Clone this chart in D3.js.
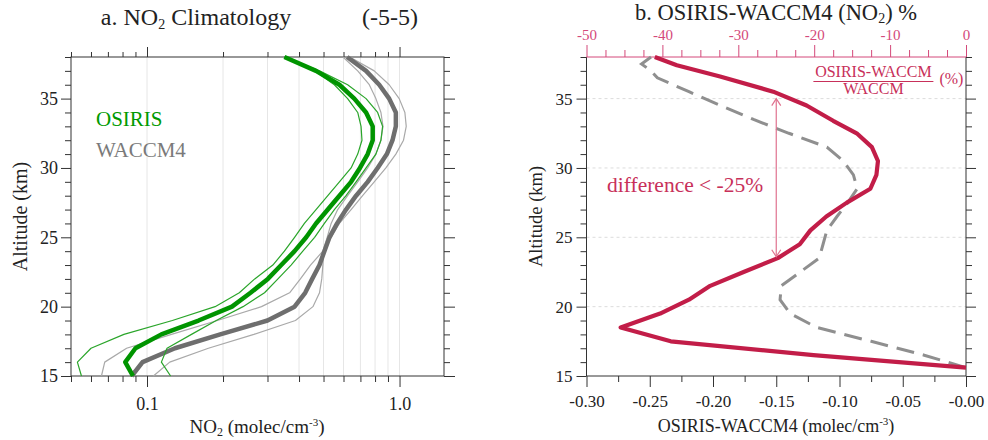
<!DOCTYPE html>
<meta charset="utf-8">
<script src="https://d3js.org/d3.v7.min.js"></script>
<style>
body { margin: 0; background: #fff; }
text { font-family: "Liberation Serif", "DejaVu Serif", "Times New Roman", serif; }
</style>
<div id="main"></div>
<script>
// ---- panel a: NO2 profiles (1e9 molec/cm3), altitude in km
const altitude   = [38, 37, 36, 35, 34, 33, 32, 31, 30, 29, 28, 27, 26, 25, 24, 23, 22, 21, 20, 19, 18, 17, 16, 15];
const osirisMean = [0.350, 0.467, 0.578, 0.662, 0.737, 0.783, 0.783, 0.748, 0.697, 0.643, 0.578, 0.520, 0.467, 0.427, 0.384, 0.340, 0.301, 0.257, 0.217, 0.160, 0.114, 0.090, 0.082, 0.088];
const osirisLow  = [0.350, 0.461, 0.552, 0.623, 0.683, 0.704, 0.710, 0.683, 0.643, 0.578, 0.520, 0.467, 0.420, 0.384, 0.350, 0.315, 0.267, 0.232, 0.186, 0.126, 0.081, 0.060, 0.053, 0.055];
const osirisHigh = [0.350, 0.482, 0.623, 0.737, 0.819, 0.857, 0.844, 0.806, 0.737, 0.673, 0.614, 0.552, 0.504, 0.461, 0.414, 0.372, 0.330, 0.292, 0.240, 0.188, 0.150, 0.120, 0.114, 0.124];
const waccmMean  = [0.620, 0.737, 0.831, 0.910, 0.967, 0.967, 0.938, 0.891, 0.819, 0.748, 0.673, 0.614, 0.566, 0.528, 0.504, 0.482, 0.451, 0.423, 0.384, 0.300, 0.195, 0.129, 0.096, 0.087];
const waccmLow   = [0.597, 0.683, 0.759, 0.806, 0.844, 0.860, 0.844, 0.806, 0.748, 0.683, 0.623, 0.569, 0.536, 0.517, 0.497, 0.444, 0.405, 0.367, 0.284, 0.190, 0.125, 0.083, 0.068, 0.066];
const waccmHigh  = [0.635, 0.794, 0.910, 0.997, 1.050, 1.063, 1.037, 0.967, 0.883, 0.794, 0.714, 0.643, 0.578, 0.536, 0.501, 0.497, 0.492, 0.482, 0.454, 0.387, 0.265, 0.175, 0.123, 0.106];

// ---- panel b: differences
const pctAlt  = [38, 37.4, 36.6, 35.5, 34.5, 33.4, 32.5, 31.5, 30.5, 29.5, 28.5, 27.5, 26.5, 25.5, 24.5, 23.5, 22.5, 21.5, 20.5, 19.5, 18.5, 17.5, 16.5, 15.6];
const pctDiff = [-41.0, -38.1, -32.4, -25.4, -21.0, -17.5, -14.4, -12.4, -11.6, -11.8, -12.6, -15.7, -18.4, -20.5, -21.9, -24.8, -29.3, -33.7, -36.5, -40.3, -45.5, -38.9, -20.1, 0.0];
const absAlt  = [38, 37.5, 37, 36.5, 35.5, 34.5, 33.5, 32.5, 31.5, 30.5, 29.5, 28.5, 27.5, 26.5, 25.5, 24.5, 23.5, 22.5, 21.5, 20.5, 19.5, 18.5, 17.5, 16.5, 15.6];
const absDiff = [-0.249, -0.2565, -0.249, -0.244, -0.219, -0.194, -0.168, -0.140, -0.110, -0.097, -0.089, -0.086, -0.0935, -0.102, -0.110, -0.113, -0.116, -0.131, -0.146, -0.147, -0.139, -0.118, -0.075, -0.033, 0.0];

// ---- ticks
const logMajor  = [0.1, 1.0];
const logLabels = ["0.1", "1.0"];
const logMinor  = [0.05, 0.06, 0.07, 0.08, 0.09, 0.2, 0.3, 0.4, 0.5, 0.6, 0.7, 0.8, 0.9];
const logGrid   = [0.1, 0.2, 0.3, 0.4, 0.5, 0.6, 0.7, 0.8, 0.9, 1.0];
const altMajor  = [15, 20, 25, 30, 35];
const altMinor  = [16, 17, 18, 19, 21, 22, 23, 24, 26, 27, 28, 29, 31, 32, 33, 34, 36, 37, 38];
const absMajor  = [-0.30, -0.25, -0.20, -0.15, -0.10, -0.05, 0];
const absLabels = ["-0.30", "-0.25", "-0.20", "-0.15", "-0.10", "-0.05", "-0.00"];
const absMinor  = [-0.275, -0.225, -0.175, -0.125, -0.075, -0.025];
const pctMajor  = [-50, -40, -30, -20, -10, 0];
const pctMinor  = [-47.5, -45, -42.5, -37.5, -35, -32.5, -27.5, -25, -22.5, -17.5, -15, -12.5, -7.5, -5, -2.5];

const width = 988, height = 440;
const serif = "Liberation Serif, DejaVu Serif, serif";
const green = "#009400", greenThin = "#2aa52a", grey = "#6e6e6e", greyThin = "#a9a9a9";
const crimson = "#c21d48", pink = "#d4497a", axisCol = "#333";

let svg = d3.select("#main").append("svg")
    .attr("width", width)
    .attr("height", height)
    .attr("font-family", serif);

let y = d3.scaleLinear().domain([15, 38]).range([376, 57]);

// ================= panel a =================
let xL = d3.scaleLog().domain([0.05, 1.5]).range([71, 444]);
let a = svg.append("g");

a.append("g").selectAll("line")
    .data(logGrid)
    .enter().append("line")
    .attr("x1", d => xL(d)).attr("x2", d => xL(d))
    .attr("y1", y(15)).attr("y2", y(38))
    .attr("stroke", "#e6e6e6");

function styleAxis(g) {
  g.attr("font-family", serif);
  g.select(".domain").remove();
  g.selectAll(".tick line").attr("stroke", axisCol);
  g.selectAll("text").attr("fill", "#222");
}

a.append("g").attr("transform", "translate(0," + y(15) + ")")
    .call(d3.axisBottom(xL).tickValues(logMajor).tickSize(11).tickPadding(10)
      .tickFormat((d, i) => logLabels[i]))
    .call(styleAxis).attr("font-size", 18);
a.append("g").attr("transform", "translate(0," + y(15) + ")")
    .call(d3.axisBottom(xL).tickValues(logMinor).tickSize(6).tickFormat(""))
    .call(styleAxis);
a.append("g").attr("transform", "translate(0," + y(38) + ")")
    .call(d3.axisTop(xL).tickValues(logMajor).tickSize(10).tickFormat(""))
    .call(styleAxis);
a.append("g").attr("transform", "translate(0," + y(38) + ")")
    .call(d3.axisTop(xL).tickValues(logMinor).tickSize(5).tickFormat(""))
    .call(styleAxis);
a.append("g").attr("transform", "translate(" + xL(0.05) + ",0)")
    .call(d3.axisLeft(y).tickValues(altMajor).tickSize(10).tickPadding(3))
    .call(styleAxis).attr("font-size", 18);
a.append("g").attr("transform", "translate(" + xL(0.05) + ",0)")
    .call(d3.axisLeft(y).tickValues(altMinor).tickSize(6).tickFormat(""))
    .call(styleAxis);
a.append("g").attr("transform", "translate(" + xL(1.5) + ",0)")
    .call(d3.axisRight(y).tickValues(altMajor).tickSize(11).tickFormat(""))
    .call(styleAxis);
a.append("g").attr("transform", "translate(" + xL(1.5) + ",0)")
    .call(d3.axisRight(y).tickValues(altMinor).tickSize(6).tickFormat(""))
    .call(styleAxis);

a.append("rect")
    .attr("x", xL(0.05)).attr("y", y(38))
    .attr("width", xL(1.5) - xL(0.05)).attr("height", y(15) - y(38))
    .attr("fill", "none").attr("stroke", axisCol);

let profile = d3.line().x(d => xL(d[0])).y(d => y(d[1]));
const series = [
  {v: waccmLow,   c: greyThin,  w: 1.2},
  {v: waccmHigh,  c: greyThin,  w: 1.2},
  {v: waccmMean,  c: grey,      w: 4.5},
  {v: osirisLow,  c: greenThin, w: 1.2},
  {v: osirisHigh, c: greenThin, w: 1.2},
  {v: osirisMean, c: green,     w: 4.5}
];
a.append("g").selectAll("path")
    .data(series)
    .enter().append("path")
    .attr("d", s => profile(s.v.map((v, i) => [v, altitude[i]])))
    .attr("fill", "none")
    .attr("stroke", s => s.c)
    .attr("stroke-width", s => s.w)
    .attr("stroke-linejoin", "round");

a.append("text").attr("x", 96).attr("y", 126).attr("font-size", 21).attr("fill", "#009a00").text("OSIRIS");
a.append("text").attr("x", 96).attr("y", 157).attr("font-size", 21).attr("fill", "#7a7a7a").text("WACCM4");

let ta = a.append("text").attr("x", 196).attr("y", 25).attr("text-anchor", "middle").attr("font-size", 24).attr("fill", "#222");
ta.append("tspan").text("a. NO");
ta.append("tspan").attr("font-size", 14).attr("dy", 4).text("2");
ta.append("tspan").attr("dy", -4).text(" Climatology");
a.append("text").attr("x", 362).attr("y", 25).attr("font-size", 24).attr("fill", "#222").text("(-5-5)");

let la = a.append("text").attr("x", 257).attr("y", 433).attr("text-anchor", "middle").attr("font-size", 19).attr("fill", "#222");
la.append("tspan").text("NO");
la.append("tspan").attr("font-size", 12).attr("dy", 3).text("2");
la.append("tspan").attr("dy", -3).text(" (molec/cm");
la.append("tspan").attr("font-size", 11).attr("dy", -7).text("-3");
la.append("tspan").attr("dy", 7).text(")");

a.append("text").attr("transform", "translate(27," + y(26.5) + ") rotate(-90)")
    .attr("text-anchor", "middle").attr("font-size", 20).attr("fill", "#222").text("Altitude (km)");

// ================= panel b =================
let xR = d3.scaleLinear().domain([-0.30, 0]).range([586.5, 966]);
let xP = d3.scaleLinear().domain([-50, 0]).range([586.5, 966]);
let b = svg.append("g");

b.append("g").selectAll("line")
    .data([20, 25, 30, 35])
    .enter().append("line")
    .attr("x1", xR(-0.30)).attr("x2", xR(0))
    .attr("y1", d => y(d)).attr("y2", d => y(d))
    .attr("stroke", "#dcdcdc").attr("stroke-dasharray", "3,3");

b.append("g").attr("transform", "translate(0," + y(15) + ")")
    .call(d3.axisBottom(xR).tickValues(absMajor).tickSize(11).tickPadding(8)
      .tickFormat((d, i) => absLabels[i]))
    .call(styleAxis).attr("font-size", 17);
b.append("g").attr("transform", "translate(0," + y(15) + ")")
    .call(d3.axisBottom(xR).tickValues(absMinor).tickSize(6).tickFormat(""))
    .call(styleAxis);
b.append("g").attr("transform", "translate(" + xR(-0.30) + ",0)")
    .call(d3.axisLeft(y).tickValues(altMajor).tickSize(10).tickPadding(4))
    .call(styleAxis).attr("font-size", 17);
b.append("g").attr("transform", "translate(" + xR(-0.30) + ",0)")
    .call(d3.axisLeft(y).tickValues(altMinor).tickSize(6).tickFormat(""))
    .call(styleAxis);
b.append("g").attr("transform", "translate(" + xR(0) + ",0)")
    .call(d3.axisRight(y).tickValues(altMajor).tickSize(10).tickFormat(""))
    .call(styleAxis);
b.append("g").attr("transform", "translate(" + xR(0) + ",0)")
    .call(d3.axisRight(y).tickValues(altMinor).tickSize(6).tickFormat(""))
    .call(styleAxis);

let topMaj = b.append("g").attr("transform", "translate(0," + y(38) + ")")
    .call(d3.axisTop(xP).tickValues(pctMajor).tickSize(12).tickPadding(5).tickFormat(d => d))
    .call(styleAxis).attr("font-size", 15);
topMaj.selectAll(".tick line").attr("stroke", pink);
topMaj.selectAll("text").attr("fill", pink);
b.append("g").attr("transform", "translate(0," + y(38) + ")")
    .call(d3.axisTop(xP).tickValues(pctMinor).tickSize(7).tickFormat(""))
    .call(styleAxis)
    .selectAll(".tick line").attr("stroke", pink);

// frame: left, bottom, right dark; top pink
b.append("path")
    .attr("d", "M" + xR(-0.30) + "," + y(38) + "V" + y(15) + "H" + xR(0) + "V" + y(38))
    .attr("fill", "none").attr("stroke", axisCol);
b.append("line")
    .attr("x1", xR(-0.30)).attr("x2", xR(0)).attr("y1", y(38)).attr("y2", y(38))
    .attr("stroke", pink);

b.append("path")
    .attr("d", d3.line().x(d => xR(d[0])).y(d => y(d[1]))(absDiff.map((v, i) => [v, absAlt[i]])))
    .attr("fill", "none").attr("stroke", "#8f8f8f").attr("stroke-width", 3)
    .attr("stroke-dasharray", "18,9");
b.append("path")
    .attr("d", d3.line().x(d => xP(d[0])).y(d => y(d[1]))(pctDiff.map((v, i) => [v, pctAlt[i]])))
    .attr("fill", "none").attr("stroke", crimson).attr("stroke-width", 4.2)
    .attr("stroke-linejoin", "round");

// annotation: arrow spanning where difference < -25%
const arrowCol = "#e0728f";
let ax = xP(-25), ay1 = y(35), ay2 = y(23.6);
b.append("line").attr("x1", ax).attr("x2", ax).attr("y1", ay1).attr("y2", ay2)
    .attr("stroke", arrowCol).attr("stroke-width", 1.2);
b.append("path")
    .attr("d", "M" + (ax - 4.5) + "," + (ay1 + 7) + "L" + ax + "," + ay1 + "L" + (ax + 4.5) + "," + (ay1 + 7) +
               "M" + (ax - 4.5) + "," + (ay2 - 7) + "L" + ax + "," + ay2 + "L" + (ax + 4.5) + "," + (ay2 - 7))
    .attr("fill", "none").attr("stroke", arrowCol).attr("stroke-width", 1.2);

b.append("text").attr("x", xP(-47.3)).attr("y", y(28.3)).attr("font-size", 21.5).attr("fill", "#c8305a")
    .text("difference < -25%");

let fx = xP(-12.2);
b.append("text").attr("x", fx).attr("y", 76.5).attr("text-anchor", "middle").attr("font-size", 16).attr("fill", "#c8305a").text("OSIRIS-WACCM");
b.append("line").attr("x1", fx - 60).attr("x2", fx + 60).attr("y1", 81.5).attr("y2", 81.5).attr("stroke", "#c8305a").attr("stroke-width", 1);
b.append("text").attr("x", fx).attr("y", 94).attr("text-anchor", "middle").attr("font-size", 16).attr("fill", "#c8305a").text("WACCM");
b.append("text").attr("x", fx + 66).attr("y", 84).attr("font-size", 16).attr("fill", "#c8305a").text("(%)");

let tb = b.append("text").attr("x", 776).attr("y", 20).attr("text-anchor", "middle").attr("font-size", 22.5).attr("fill", "#222");
tb.append("tspan").text("b. OSIRIS-WACCM4 (NO");
tb.append("tspan").attr("font-size", 14).attr("dy", 3).text("2");
tb.append("tspan").attr("dy", -3).text(") %");

let lb = b.append("text").attr("x", 776).attr("y", 432).attr("text-anchor", "middle").attr("font-size", 18).attr("fill", "#222");
lb.append("tspan").text("OSIRIS-WACCM4 (molec/cm");
lb.append("tspan").attr("font-size", 11).attr("dy", -7).text("-3");
lb.append("tspan").attr("dy", 7).text(")");

b.append("text").attr("transform", "translate(542," + y(26.5) + ") rotate(-90)")
    .attr("text-anchor", "middle").attr("font-size", 18.5).attr("fill", "#222").text("Altitude (km)");

svg.selectAll("text").attr("font-family", serif);
</script>
